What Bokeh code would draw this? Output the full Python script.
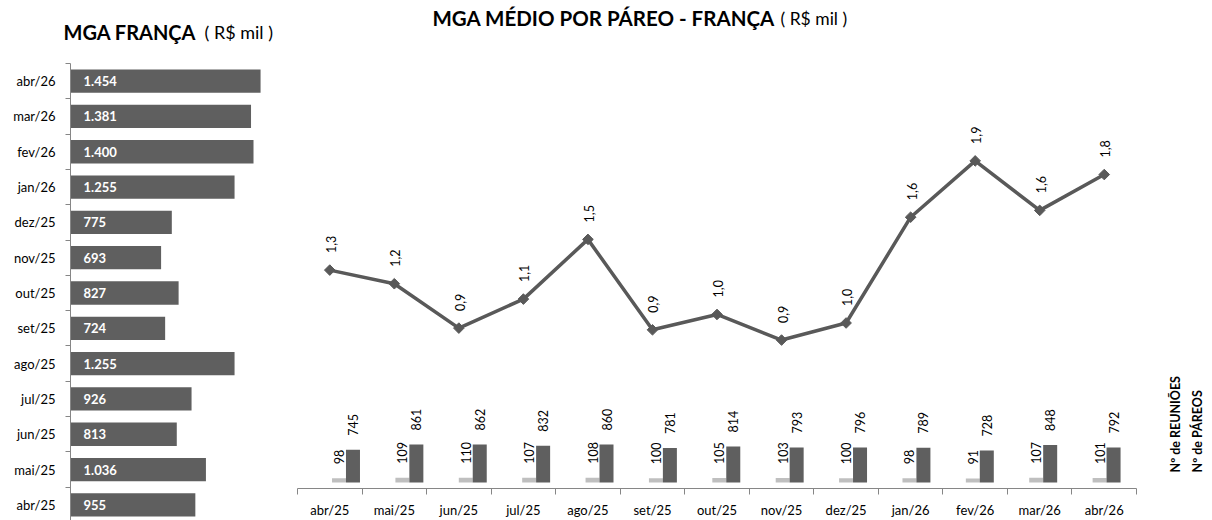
import numpy as np
from bokeh.plotting import figure
from bokeh.models import ColumnDataSource, Range1d, FixedTicker, Label
from bokeh.embed import file_html
from bokeh.resources import INLINE
from bokeh.core.properties import value

# ---------------- data ----------------
months = ["abr/25", "mai/25", "jun/25", "jul/25", "ago/25", "set/25", "out/25",
          "nov/25", "dez/25", "jan/26", "fev/26", "mar/26", "abr/26"]
mga_total = [955, 1036, 813, 926, 1255, 724, 827, 693, 775, 1255, 1400, 1381, 1454]
mga_medio = [1.28, 1.20, 0.94, 1.11, 1.46, 0.93, 1.02, 0.87, 0.97, 1.59, 1.92, 1.63, 1.84]
reunioes = [98, 109, 110, 107, 108, 100, 105, 103, 100, 98, 91, 107, 101]
pareos = [745, 861, 862, 832, 860, 781, 814, 793, 796, 789, 728, 848, 792]

FONT = "Lato"
DARK = "#5f5f5f"
LINE = "#595959"
LIGHT = "#bfbfbf"
AXIS = "#868686"
TXT = "#000000"


def thousands(v):
    return f"{v:,}".replace(",", ".")


def dec1(v):
    return f"{v:.1f}".replace(".", ",")


idx = np.arange(len(months))

# ---------------- left: MGA FRANÇA ----------------
left_src = ColumnDataSource(dict(y=idx, v=mga_total, lbl=[thousands(v) for v in mga_total]))

p1 = figure(width=290, height=520, x_range=Range1d(-535.6, 1683), y_range=Range1d(-0.442, 14.284),
            x_axis_location=None, y_axis_location="left",
            toolbar_location=None, output_backend="svg",
            min_border_left=0, min_border_right=0, min_border_top=0, min_border_bottom=0)
p1.hbar(y="y", left=0, right="v", height=0.66, source=left_src,
        fill_color=DARK, line_color=None)
p1.text(x=0, y="y", text="lbl", source=left_src, x_offset=13,
        text_baseline="middle", text_align="left", text_color="white",
        text_font=value(FONT), text_font_style="bold", text_font_size="13px")

ya = p1.yaxis[0]
ya.fixed_location = 0
ya.bounds = (-1, 12.5)
ya.ticker = FixedTicker(ticks=[int(i) for i in idx],
                        minor_ticks=[float(i) + 0.5 for i in idx] + [-0.5])
ya.major_label_overrides = {int(i): m for i, m in zip(idx, months)}
ya.axis_line_color = AXIS
ya.minor_tick_line_color = AXIS
ya.major_tick_line_color = None
ya.major_tick_in = 0
ya.major_tick_out = 0
ya.minor_tick_in = 0
ya.minor_tick_out = 5
ya.major_label_standoff = 10
ya.major_label_text_font = FONT
ya.major_label_text_font_size = "13px"
ya.major_label_text_color = TXT
p1.grid.visible = False
p1.outline_line_color = None

p1.add_layout(Label(x=63, y=488.5, x_units="screen", y_units="screen", text="MGA FRANÇA",
                    text_font=FONT, text_font_style="bold", text_font_size="20px",
                    text_color=TXT, text_baseline="alphabetic"))
p1.add_layout(Label(x=204, y=488.5, x_units="screen", y_units="screen", text="( R$ mil )",
                    text_font=FONT, text_font_size="18px",
                    text_color=TXT, text_baseline="alphabetic"))

# ---------------- right: MGA MÉDIO POR PÁREO ----------------
line_src = ColumnDataSource(dict(x=idx + 0.5, y=mga_medio, lbl=[dec1(v) for v in mga_medio]))
reu_src = ColumnDataSource(dict(x=idx + 0.5 - 0.11, top=reunioes, lbl=[str(v) for v in reunioes]))
par_src = ColumnDataSource(dict(x=idx + 0.5 + 0.11, top=pareos, lbl=[str(v) for v in pareos]))

p2 = figure(width=922, height=520, x_range=Range1d(-0.1085, 14.177), y_range=Range1d(0, 2.860),
            y_axis_location=None, x_axis_location="below",
            toolbar_location=None, output_backend="svg",
            min_border_left=0, min_border_right=0, min_border_top=0, min_border_bottom=29)
p2.extra_x_ranges = {"bars": Range1d(-0.3757, 14.171)}
p2.extra_y_ranges = {"bars": Range1d(-135, 10923)}

p2.vbar(x="x", top="top", bottom=0, width=0.221, source=reu_src,
        fill_color=LIGHT, line_color=None, x_range_name="bars", y_range_name="bars")
p2.vbar(x="x", top="top", bottom=0, width=0.221, source=par_src,
        fill_color=DARK, line_color=None, x_range_name="bars", y_range_name="bars")
for src in (reu_src, par_src):
    p2.text(x="x", y="top", text="lbl", source=src, angle=np.pi / 2, y_offset=-14,
            text_align="left", text_baseline="middle", text_color=TXT,
            text_font=value(FONT), text_font_size="12.5px",
            x_range_name="bars", y_range_name="bars")

p2.line(x="x", y="y", source=line_src, line_color=LINE, line_width=3.5)
p2.scatter(x="x", y="y", source=line_src, marker="square", angle=np.pi / 4, size=7.5,
           fill_color=LINE, line_color=LINE)
p2.text(x="x", y="y", text="lbl", source=line_src, angle=np.pi / 2, y_offset=-17, x_offset=1,
        text_align="left", text_baseline="middle", text_color=TXT,
        text_font=value(FONT), text_font_size="12.5px")

xa = p2.xaxis[0]
xa.bounds = (0, len(months))
xa.ticker = FixedTicker(ticks=[float(i) + 0.5 for i in idx],
                        minor_ticks=[int(i) for i in range(len(months) + 1)])
xa.major_label_overrides = {float(i) + 0.5: m for i, m in zip(idx, months)}
xa.axis_line_color = AXIS
xa.minor_tick_line_color = AXIS
xa.major_tick_line_color = None
xa.major_tick_in = 0
xa.major_tick_out = 0
xa.minor_tick_in = 0
xa.minor_tick_out = 6
xa.major_label_standoff = 7
xa.major_label_text_font = FONT
xa.major_label_text_font_size = "13px"
xa.major_label_text_color = TXT
p2.grid.visible = False
p2.outline_line_color = None

p2.add_layout(Label(x=142, y=470.3, x_units="screen", y_units="screen",
                    text="MGA MÉDIO POR PÁREO - FRANÇA",
                    text_font=FONT, text_font_style="bold", text_font_size="20.5px",
                    text_color=TXT, text_baseline="alphabetic"))
p2.add_layout(Label(x=490, y=470.3, x_units="screen", y_units="screen", text="( R$ mil )",
                    text_font=FONT, text_font_size="17.5px",
                    text_color=TXT, text_baseline="alphabetic"))
p2.add_layout(Label(x=885, y=16, x_units="screen", y_units="screen", text="Nº de REUNIÕES",
                    angle=np.pi / 2, text_align="left", text_baseline="middle",
                    text_font=FONT, text_font_style="bold", text_font_size="12.5px",
                    text_color=TXT))
p2.add_layout(Label(x=907, y=16, x_units="screen", y_units="screen", text="Nº de PÁREOS",
                    angle=np.pi / 2, text_align="left", text_baseline="middle",
                    text_font=FONT, text_font_style="bold", text_font_size="12.5px",
                    text_color=TXT))

# two independent roots placed side by side (avoids frame alignment of a row)
p1.styles = {"float": "left"}
p2.styles = {"float": "left"}

open("out.html", "w").write(file_html([p1, p2], INLINE))
